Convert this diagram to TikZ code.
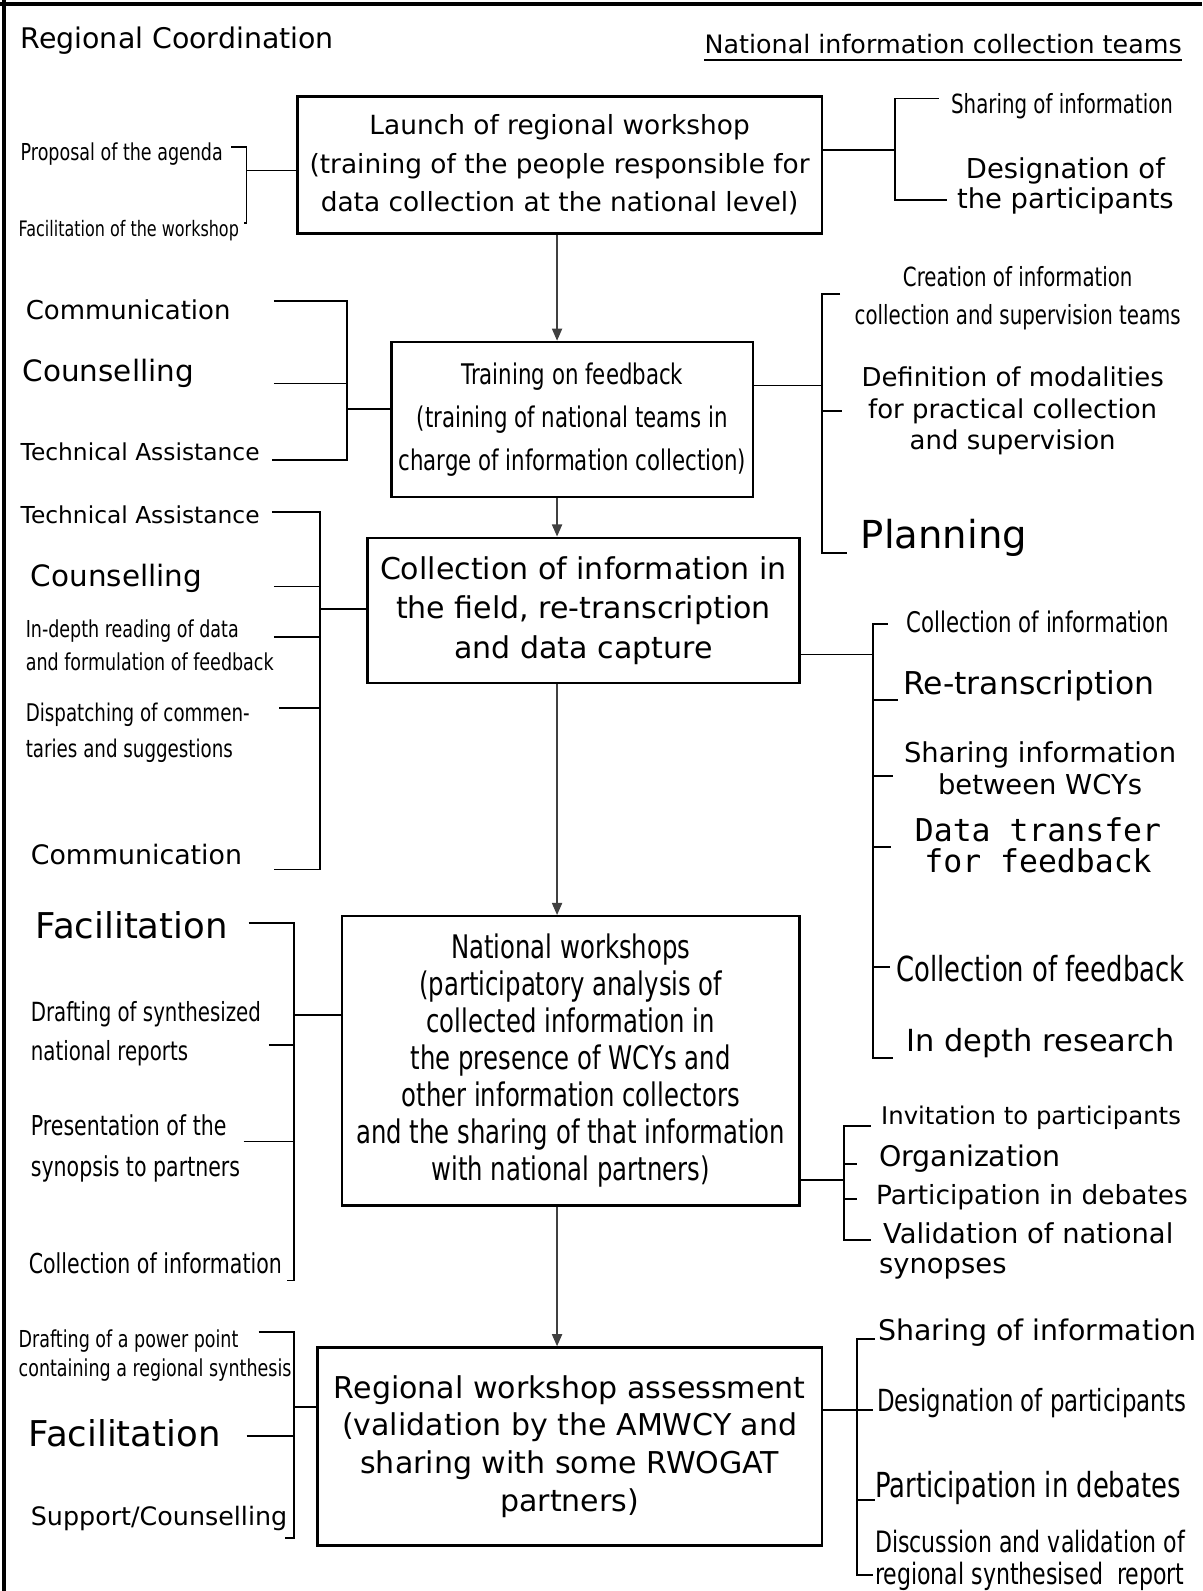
\documentclass[tikz,border=0pt]{standalone}
\usepackage{fontspec}
\setmainfont{DejaVu Sans}
\newfontfamily\narrowfont[FakeStretch=0.75]{DejaVu Sans}
\newfontfamily\typefont{DejaVu Sans Mono}
\usepackage{tikz}
\usetikzlibrary{positioning,arrows.meta,calc}
\newcommand{\fsz}[2]{\fontsize{#1}{#2}\selectfont}
\tikzset{
  stage-box/.style={draw=black,line width=1.2pt,align=center,inner sep=0pt},
  side-label/.style={inner sep=0pt,align=left,anchor=west},
  side-block/.style={inner sep=0pt,align=center},
  link-line/.style={draw=black,line width=0.9pt},
  flow-arrow/.style={-{Triangle[length=6pt,width=5pt]},draw=black!75,line width=0.8pt},
  frame-line/.style={draw=black,line width=1.6pt},
}

\begin{document}
\begin{tikzpicture}[x=0.5pt,y=-0.5pt]
  \useasboundingbox (0,0) rectangle (1185,1568);
  \draw[frame-line] (0,4) -- (1185,4);
  \draw[frame-line] (4,0) -- (4,1568);

  % headings
  \node[side-label,font=\fsz{14}{16}] (hdr-l) at (20,40) {Regional Coordination};
  \node[inner sep=0pt,anchor=east,font=\fsz{12.5}{15}] (hdr-r) at (1165,43) {National information collection teams};
  \draw[line width=0.7pt] ([yshift=-3pt]hdr-r.south west) -- ([yshift=-3pt]hdr-r.south east);

  % stages
  \node[stage-box,minimum width=258.5pt,minimum height=67.5pt,font=\fsz{13}{19}] (launch) at (551.5,162.5)
    {Launch of regional workshop\\(training of the people responsible for\\data collection at the national level)};
  \node[stage-box,minimum width=178pt,minimum height=76.5pt,font=\narrowfont\fsz{14}{21}] (feedback) at (564,413.5)
    {Training on feedback\\(training of national teams in\\charge of information collection)};
  \node[stage-box,minimum width=213pt,minimum height=71.5pt,font=\fsz{14.8}{19.5}] (fieldwork) at (575,601.5)
    {Collection of information in\\the field, re-transcription\\and data capture};
  \node[stage-box,minimum width=225.5pt,minimum height=142.5pt,font=\narrowfont\fsz{16}{18.25}] (natws) at (562.5,1045.5)
    {National workshops\\(participatory analysis of\\collected information in\\the presence of WCYs and\\other information collectors\\and the sharing of that information\\with national partners)};
  \node[stage-box,minimum width=248.5pt,minimum height=97.5pt,font=\fsz{14.8}{18.5}] (regassess) at (561.5,1425.5)
    {Regional workshop assessment\\(validation by the AMWCY and\\sharing with some RWOGAT\\partners)};

  \coordinate (spine) at (549,0);
  \draw[flow-arrow] (launch.south -| spine) -- (feedback.north -| spine);
  \draw[flow-arrow] (feedback.south -| spine) -- (fieldwork.north -| spine);
  \draw[flow-arrow] (fieldwork.south -| spine) -- (natws.north -| spine);
  \draw[flow-arrow] (natws.south -| spine) -- (regassess.north -| spine);

  % launch: regional side
  \node[side-label,font=\narrowfont\fsz{11.5}{13}] (la-l1) at (20,152) {Proposal of the agenda};
  \node[side-label,font=\narrowfont\fsz{10.5}{12}] (la-l2) at (18,227) {Facilitation of the workshop};
  \coordinate (ja-l) at (243,168);
  \draw[link-line] (launch.west |- ja-l) -- (ja-l);
  \draw[link-line] (228,145) -| (ja-l) |- (240,220);
  % launch: national side
  \node[side-label,font=\narrowfont\fsz{13}{15}] (la-r1) at (937,105) {Sharing of information};
  \node[side-block,font=\fsz{13.5}{15}] (la-r2) at (1050,183) {Designation of\\the participants};
  \coordinate (ja-r) at (882,148);
  \draw[link-line] (launch.east |- ja-r) -- (ja-r);
  \draw[link-line] (925,97) -| (ja-r) |- (933,197);

  % feedback: regional side
  \node[side-label,font=\fsz{12.8}{15}] (fb-l1) at (25,305) {Communication};
  \node[side-label,font=\fsz{14.5}{16}] (fb-l2) at (22,368) {Counselling};
  \node[side-label,font=\fsz{11.5}{13}] (fb-l3) at (20,445) {Technical Assistance};
  \coordinate (jb-l) at (342,403);
  \draw[link-line] (feedback.west |- jb-l) -- (jb-l);
  \draw[link-line] (270,297) -| (jb-l) |- (268,453);
  \draw[link-line] (270,378) -- (342,378);
  % feedback: national side
  \node[side-block,font=\narrowfont\fsz{13}{19}] (fb-r1) at (1003,294) {Creation of information\\collection and supervision teams};
  \node[side-block,font=\fsz{12.8}{15.5}] (fb-r2) at (998,405) {Definition of modalities\\for practical collection\\and supervision};
  \node[side-label,font=\fsz{19}{21}] (fb-r3) at (848,530) {Planning};
  \coordinate (jb-r) at (810,380);
  \draw[link-line] (feedback.east |- jb-r) -- (jb-r);
  \draw[link-line] (828,290) -| (jb-r) |- (835,545);
  \draw[link-line] (810,405) -- (830,405);

  % fieldwork: regional side
  \node[side-label,font=\fsz{11.5}{13}] (fw-l1) at (20,507) {Technical Assistance};
  \node[side-label,font=\fsz{14.5}{16}] (fw-l2) at (30,570) {Counselling};
  \node[side-label,font=\narrowfont\fsz{11.5}{16}] (fw-l3) at (25,636) {In-depth reading of data\\and formulation of feedback};
  \node[side-label,font=\narrowfont\fsz{12}{17.5}] (fw-l4) at (25,722) {Dispatching of commen-\\taries and suggestions};
  \node[side-label,font=\fsz{13.2}{15}] (fw-l5) at (30,842) {Communication};
  \coordinate (jc-l) at (315,600);
  \draw[link-line] (fieldwork.west |- jc-l) -- (jc-l);
  \draw[link-line] (268,505) -| (jc-l) |- (270,857);
  \foreach \yy/\xx in {578/270,628/270,698/275}
    \draw[link-line] (\xx,\yy) -- (315,\yy);
  % fieldwork: national side
  \node[side-label,font=\narrowfont\fsz{14}{16}] (fw-r1) at (893,613) {Collection of information};
  \node[side-label,font=\fsz{15.5}{17}] (fw-r2) at (890,676) {Re-transcription};
  \node[side-block,font=\fsz{13.5}{15.5}] (fw-r3) at (1025,757) {Sharing information\\between WCYs};
  \node[side-block,font=\typefont\fsz{15.5}{15}] (fw-r4) at (1023,833) {Data transfer\\for feedback};
  \node[side-label,font=\narrowfont\fsz{17}{19}] (fw-r5) at (883,955) {Collection of feedback};
  \node[side-label,font=\fsz{15}{17}] (fw-r6) at (893,1028) {In depth research};
  \coordinate (jc-r) at (860,645);
  \draw[link-line] (fieldwork.east |- jc-r) -- (jc-r);
  \draw[link-line] (875,615) -| (jc-r) |- (880,1043);
  \foreach \yy/\xx in {690/885,765/880,835/878,953/877}
    \draw[link-line] (860,\yy) -- (\xx,\yy);

  % national workshops: regional side
  \node[side-label,font=\fsz{17.5}{19}] (nw-l1) at (35,912) {Facilitation};
  \node[side-label,font=\narrowfont\fsz{13}{19}] (nw-l2) at (30,1019) {Drafting of synthesized\\national reports};
  \node[side-label,font=\narrowfont\fsz{13.5}{20}] (nw-l3) at (30,1132) {Presentation of the\\synopsis to partners};
  \node[side-label,font=\narrowfont\fsz{13.5}{15}] (nw-l4) at (28,1245) {Collection of information};
  \coordinate (jd-l) at (290,1000);
  \draw[link-line] (natws.west |- jd-l) -- (jd-l);
  \draw[link-line] (245,910) -| (jd-l) |- (283,1262);
  \foreach \yy/\xx in {1030/265,1125/240}
    \draw[link-line] (\xx,\yy) -- (290,\yy);
  % national workshops: national side
  \node[side-label,font=\fsz{12}{14}] (nw-r1) at (868,1102) {Invitation to participants};
  \node[side-label,font=\fsz{14}{16}] (nw-r2) at (866,1142) {Organization};
  \node[side-label,font=\fsz{13}{15}] (nw-r3) at (863,1180) {Participation in debates};
  \node[side-label,font=\fsz{13.5}{15}] (nw-r4) at (866,1233) {\hspace{2pt}Validation of national\\synopses};
  \coordinate (jd-r) at (832,1163);
  \draw[link-line] (natws.east |- jd-r) -- (jd-r);
  \draw[link-line] (858,1110) -| (jd-r) |- (858,1222);
  \foreach \yy in {1147,1182}
    \draw[link-line] (832,\yy) -- (845,\yy);

  % regional assessment: regional side
  \node[side-label,font=\narrowfont\fsz{11.5}{14}] (ra-l1) at (18,1336) {Drafting of a power point\\containing a regional synthesis};
  \node[side-label,font=\fsz{17.5}{19}] (ra-l2) at (28,1413) {Facilitation};
  \node[side-label,font=\fsz{12.5}{15}] (ra-l3) at (30,1497) {Support/Counselling};
  \coordinate (je-l) at (290,1387);
  \draw[link-line] (regassess.west |- je-l) -- (je-l);
  \draw[link-line] (255,1313) -| (je-l) |- (281,1516);
  \draw[link-line] (243,1415) -- (290,1415);
  % regional assessment: national side
  \node[side-label,font=\fsz{14}{16}] (ra-r1) at (865,1313) {Sharing of information};
  \node[side-label,font=\narrowfont\fsz{15}{17}] (ra-r2) at (864,1383) {Designation of participants};
  \node[side-label,font=\narrowfont\fsz{17}{19}] (ra-r3) at (862,1466) {Participation in debates};
  \node[side-label,font=\narrowfont\fsz{14.5}{16}] (ra-r4) at (862,1538) {Discussion and validation of\\regional synthesised\ \ report};
  \coordinate (je-r) at (845,1390);
  \draw[link-line] (regassess.east |- je-r) -- (860,1390);
  \draw[link-line] (862,1320) -| (je-r) |- (860,1552);
  \draw[link-line] (845,1478) -- (862,1478);
\end{tikzpicture}
\end{document}
